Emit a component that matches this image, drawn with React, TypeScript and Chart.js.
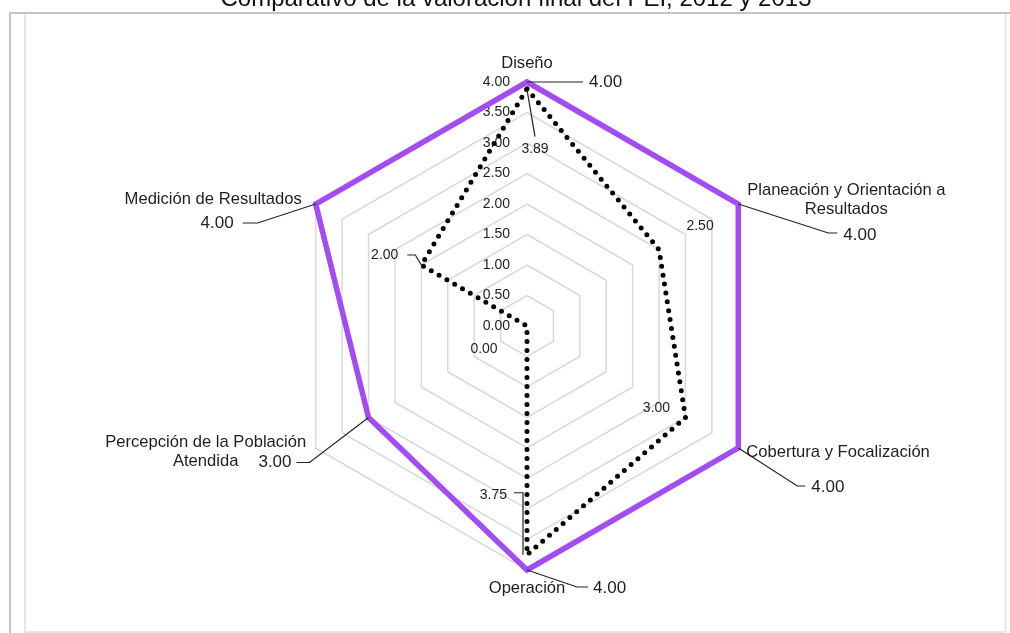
import React, { useEffect, useRef } from "react";
import { Chart, registerables } from "chart.js";
Chart.register(...registerables);

const TITLE = "Comparativo de la valoración final del PEI, 2012 y 2013";
const categories: string[][] = [
  ["Diseño"],
  ["Planeación y Orientación a", "Resultados"],
  ["Cobertura y Focalización"],
  ["Operación"],
  ["Percepción de la Población", "Atendida"],
  ["Medición de Resultados"],
];
const seriesPurple = [4.0, 4.0, 4.0, 4.0, 3.0, 4.0];
const seriesBlack = [3.89, 2.5, 3.0, 3.75, 0.0, 2.0];
const tickValues = [0, 0.5, 1, 1.5, 2, 2.5, 3, 3.5, 4];

type Lab = { dx: number; dy: number; align: CanvasTextAlign; leader?: [number, number][] };

const purpleLabelLayout: Lab[] = [
  { dx: 62, dy: 0, align: "left", leader: [[0, 0], [56, 0]] },
  { dx: 105, dy: 31, align: "left", leader: [[0, 0], [90, 29], [99, 29]] },
  { dx: 73, dy: 39, align: "left", leader: [[0, 0], [59, 38], [67, 38]] },
  { dx: 66, dy: 18, align: "left", leader: [[0, 0], [50, 17], [61, 17]] },
  { dx: -77, dy: 45, align: "right", leader: [[0, 0], [-59, 45], [-72, 45]] },
  { dx: -82, dy: 19, align: "right", leader: [[0, 0], [-58, 19], [-73, 19]] },
];
const blackLabelLayout: Lab[] = [
  { dx: 8, dy: 60, align: "center", leader: [[0, 1], [8, 48]] },
  { dx: 41, dy: -24, align: "center" },
  { dx: -29, dy: -9, align: "center" },
  { dx: -20, dy: -60, align: "right", leader: [[-4, 0], [-4, -62], [-13, -62]] },
  { dx: -43, dy: 23, align: "center" },
  { dx: -23, dy: -10, align: "right", leader: [[0, 0], [-6, -10], [-14, -10]] },
];
const pointLabelLayout: Lab[] = [
  { dx: 0, dy: -19, align: "center" },
  { dx: 108, dy: -14, align: "center" },
  { dx: 8, dy: 4, align: "left" },
  { dx: 0, dy: 18, align: "center" },
  { dx: -110, dy: -6, align: "center" },
  { dx: -14, dy: -5, align: "right" },
];

const FONT = "'Liberation Sans', Arial, sans-serif";
const TEXT_COLOR = "#1e1e1e";
const PURPLE = "#a24cf2";

const overlayPlugin = {
  id: "overlay",
  beforeDraw(chart: any) {
    const ctx = chart.ctx;
    ctx.save();
    ctx.fillStyle = "#ffffff";
    ctx.fillRect(0, 0, chart.width, chart.height);
    // frame
    ctx.lineWidth = 2;
    ctx.strokeStyle = "#c4c4c4";
    ctx.beginPath();
    ctx.moveTo(9, 13);
    ctx.lineTo(1010, 13);
    ctx.moveTo(10, 12);
    ctx.lineTo(10, 633);
    ctx.stroke();
    ctx.strokeStyle = "#e6e6e6";
    ctx.beginPath();
    ctx.moveTo(25, 14);
    ctx.lineTo(25, 632);
    ctx.moveTo(24, 632);
    ctx.lineTo(1006, 632);
    ctx.moveTo(1005.5, 14);
    ctx.lineTo(1005.5, 632);
    ctx.stroke();
    // title
    ctx.fillStyle = "#111";
    ctx.font = `24px ${FONT}`;
    ctx.textAlign = "center";
    ctx.textBaseline = "alphabetic";
    ctx.fillText(TITLE, 516, 6);
    ctx.restore();
  },
  beforeDatasetsDraw(chart: any) {
    const ctx = chart.ctx;
    const r = chart.scales.r;
    ctx.save();
    ctx.fillStyle = TEXT_COLOR;
    ctx.font = `14px ${FONT}`;
    ctx.textAlign = "right";
    ctx.textBaseline = "middle";
    tickValues.forEach((v) => {
      const y = r.yCenter - r.getDistanceFromCenterForValue(v);
      ctx.fillText(v.toFixed(2), r.xCenter - 17, y);
    });
    ctx.restore();
  },
  afterDatasetsDraw(chart: any) {
    const ctx = chart.ctx;
    const r = chart.scales.r;
    ctx.save();
    ctx.textBaseline = "middle";
    ctx.fillStyle = TEXT_COLOR;
    // point labels
    ctx.font = `16.6px ${FONT}`;
    categories.forEach((lines, i) => {
      const p = r.getPointPositionForValue(i, r.max);
      const L = pointLabelLayout[i];
      ctx.textAlign = L.align;
      lines.forEach((t, k) => ctx.fillText(t, p.x + L.dx, p.y + L.dy + k * 19));
    });
    const drawSet = (vals: number[], layout: Lab[], size: number) => {
      ctx.font = `${size}px ${FONT}`;
      vals.forEach((v, i) => {
        const p = r.getPointPositionForValue(i, v);
        const L = layout[i];
        if (L.leader) {
          ctx.strokeStyle = "#222";
          ctx.lineWidth = 1.2;
          ctx.beginPath();
          L.leader.forEach(([x, y], k) => {
            if (k === 0) ctx.moveTo(p.x + x, p.y + y);
            else ctx.lineTo(p.x + x, p.y + y);
          });
          ctx.stroke();
        }
        ctx.textAlign = L.align;
        ctx.fillText(v.toFixed(2), p.x + L.dx, p.y + L.dy);
      });
    };
    drawSet(seriesPurple, purpleLabelLayout, 17);
    drawSet(seriesBlack, blackLabelLayout, 14);
    ctx.restore();
  },
};

export default function App() {
  const ref = useRef<HTMLCanvasElement | null>(null);
  useEffect(() => {
    if (!ref.current) return;
    const chart = new Chart(ref.current, {
      type: "radar",
      data: {
        labels: categories.map((c) => c.join(" ")),
        datasets: [
          {
            label: "2013",
            data: seriesPurple,
            borderColor: PURPLE,
            borderWidth: 5.5,
            borderJoinStyle: "miter",
            fill: false,
            pointRadius: 0,
            pointHoverRadius: 0,
          },
          {
            label: "2012",
            data: seriesBlack,
            borderColor: "#000000",
            borderWidth: 5,
            borderDash: [0, 9],
            borderCapStyle: "round",
            fill: false,
            pointRadius: 0,
            pointHoverRadius: 0,
          },
        ],
      },
      options: {
        responsive: false,
        animation: false,
        devicePixelRatio: 1,
        layout: { padding: { left: 283, right: 239, top: 82, bottom: 63 } },
        plugins: { legend: { display: false }, tooltip: { enabled: false }, title: { display: false } },
        scales: {
          r: {
            min: 0,
            max: 4,
            ticks: { stepSize: 0.5, display: false },
            grid: { color: "#d9d9d9", lineWidth: 1.5 },
            angleLines: { display: false },
            pointLabels: { display: false },
          },
        },
      } as any,
      plugins: [overlayPlugin],
    });
    return () => chart.destroy();
  }, []);
  return (
    <div style={{ position: "fixed", left: 0, top: 0, width: 1010, height: 633, background: "#fff" }}>
      <canvas ref={ref} width={1010} height={633} style={{ display: "block" }} />
    </div>
  );
}
